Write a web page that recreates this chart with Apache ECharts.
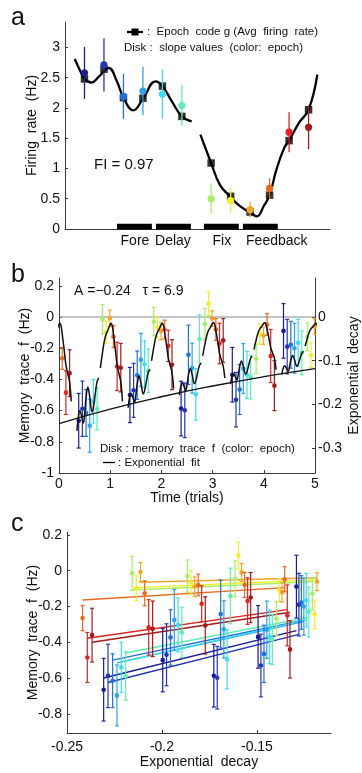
<!DOCTYPE html>
<html><head><meta charset="utf-8">
<script src="https://cdn.jsdelivr.net/npm/echarts@6/dist/echarts.min.js"></script>
<style>html,body{margin:0;padding:0;background:#fff}#chart{width:362px;height:773px}</style>
</head><body><div id="chart"></div>
<script>
const FONT = 'Liberation Sans, Arial, Helvetica, sans-serif';
const INK = '#111';
const AX = '#3a3a3a';

// jet-like epoch colours (12 epochs)
const epochColors = ['#1b1b94','#2436b4','#2170dc','#2ea3e6','#3ddcef','#5cefb0','#a6ef6a','#f2ee2a','#f3a52a','#e9691f','#e02222','#a31a1a'];

// ---------- panel a ----------
const aEpochX = [1,2,3,4,5,6,7.5,8.5,9.5,10.5,11.5,12.5];
const aEpochCode = [2.48,2.64,2.17,2.16,2.36,1.86,1.09,0.54,0.28,0.56,1.46,1.97];
const aSlope = [2.58,2.71,2.19,2.28,2.23,2.04,0.50,0.47,0.32,0.67,1.60,1.68];
const aSlopeErr = [0.43,0.44,0.37,0.40,0.41,0.34,0.25,0.21,0.13,0.17,0.33,0.36];
const aCurve1 = [[0.5,2.81],[0.8,2.6],[1.0,2.48],[1.35,2.42],[1.75,2.52],[2.25,2.66],[2.65,2.45],[3.0,2.17],[3.5,1.96],[4.0,2.15],[4.65,2.44],[5.0,2.36],[5.5,2.1],[6.0,1.86],[6.5,1.78]];
const aCurve2 = [[6.95,1.56],[7.5,1.09],[7.95,0.73],[8.5,0.53],[8.95,0.385],[9.5,0.27],[9.85,0.21],[10.2,0.38],[10.5,0.56],[10.85,0.98],[11.25,1.34],[11.5,1.46],[12.0,1.75],[12.5,1.97],[12.95,2.55]];
const aEpochBars = [[2.67,4.46],[4.67,6.46],[7.13,8.92],[9.13,10.92]];
const aEpochNames = ['Fore','Delay','Fix','Feedback'];
const aEpochNameX = [3.59,5.54,8.05,10.87];
const aTickY = [0,0.5,1,1.5,2,2.5,3];

// ---------- panels b & c ----------
const trialIds = [-1,0,1,2,3,4];
// time of each epoch inside a trial (trial k occupies k .. k+1.24)
const epochTimeInTrial = [0.385,0.457,0.528,0.600,0.671,0.743,0.850,0.921,0.993,1.064,1.135,1.207];
const memTrace = [
  [null,null,null,null,null,null,null,null,null,-0.265,-0.485,-0.36],
  [-0.665,-0.588,-0.615,-0.697,-0.54,-0.588,-0.015,-0.098,-0.008,-0.126,-0.317,-0.325],
  [-0.50,-0.47,-0.373,-0.275,-0.303,-0.345,-0.03,-0.066,-0.09,-0.08,-0.185,-0.306],
  [-0.587,-0.598,-0.242,-0.328,-0.495,-0.141,-0.045,0.085,-0.01,-0.08,-0.17,-0.15],
  [-0.37,-0.53,-0.465,-0.33,-0.37,-0.385,-0.268,-0.11,-0.12,-0.048,-0.25,-0.44],
  [-0.089,-0.19,-0.178,-0.20,-0.165,-0.23,-0.128,-0.245,-0.061,null,null,null]
];
const memErr = [
  [null,null,null,null,null,null,null,null,null,0.07,0.14,0.15],
  [0.175,0.177,0.15,0.17,0.14,0.135,0.095,0.07,0.053,0.07,0.155,0.155],
  [0.177,0.173,0.155,0.17,0.15,0.14,0.09,0.066,0.055,0.06,0.1,0.16],
  [0.175,0.175,0.19,0.16,0.165,0.155,0.1,0.075,0.05,0.07,0.13,0.14],
  [0.175,0.175,0.16,0.16,0.15,0.14,0.095,0.065,0.055,0.07,0.17,0.16],
  [0.175,0.175,0.15,0.16,0.15,0.14,0.09,0.08,0.05,null,null,null]
];
const decayX = [
  [null,null,null,null,null,null,null,null,null,-0.2418,-0.2393,-0.2368],
  [-0.2307,-0.2284,-0.2260,-0.2237,-0.2214,-0.2191,-0.2157,-0.2135,-0.2113,-0.2091,-0.2070,-0.2049],
  [-0.1996,-0.1976,-0.1955,-0.1935,-0.1915,-0.1895,-0.1866,-0.1847,-0.1828,-0.1809,-0.1791,-0.1772],
  [-0.1727,-0.1709,-0.1691,-0.1674,-0.1657,-0.1640,-0.1615,-0.1598,-0.1581,-0.1565,-0.1549,-0.1533],
  [-0.1494,-0.1479,-0.1463,-0.1448,-0.1433,-0.1419,-0.1397,-0.1382,-0.1368,-0.1354,-0.1340,-0.1326],
  [-0.1292,-0.1279,-0.1266,-0.1253,-0.1240,-0.1227,-0.1208,-0.1196,-0.1184,null,null,null]
];
// black memory-trace curve: two pieces per trial
const curveTimeA = [0.350,0.385,0.410,0.439,0.475,0.503,0.528,0.564,0.600,0.646,0.671,0.707,0.743,0.778];
const curveTimeB = [0.807,0.850,0.885,0.921,0.957,0.993,1.018,1.043,1.064,1.100,1.135,1.171,1.207,1.239];
const curveA = [
  null,
  [-0.730,-0.621,-0.601,-0.634,-0.680,-0.611,-0.519,-0.449,-0.512,-0.608,-0.581,-0.496,-0.416,-0.390],
  [-0.582,-0.503,-0.489,-0.513,-0.546,-0.496,-0.429,-0.378,-0.424,-0.493,-0.474,-0.412,-0.354,-0.335],
  [-0.501,-0.435,-0.423,-0.443,-0.471,-0.429,-0.373,-0.331,-0.369,-0.427,-0.411,-0.359,-0.311,-0.295],
  [-0.430,-0.373,-0.362,-0.380,-0.404,-0.367,-0.318,-0.282,-0.315,-0.366,-0.352,-0.306,-0.264,-0.250],
  [-0.369,-0.322,-0.313,-0.327,-0.348,-0.317,-0.277,-0.246,-0.274,-0.316,-0.304,-0.266,-0.232,-0.220]
];
const curveB = [
  [-0.328,-0.227,-0.154,-0.109,-0.083,-0.053,-0.040,-0.062,-0.113,-0.208,-0.307,-0.363,-0.416,-0.541],
  [-0.328,-0.227,-0.154,-0.109,-0.083,-0.053,-0.040,-0.062,-0.113,-0.208,-0.307,-0.363,-0.416,-0.541],
  [-0.281,-0.197,-0.135,-0.098,-0.076,-0.051,-0.040,-0.058,-0.101,-0.180,-0.263,-0.310,-0.355,-0.459],
  [-0.249,-0.174,-0.120,-0.086,-0.067,-0.045,-0.035,-0.051,-0.089,-0.160,-0.233,-0.275,-0.315,-0.390],
  [-0.209,-0.148,-0.104,-0.077,-0.061,-0.043,-0.035,-0.048,-0.079,-0.136,-0.196,-0.230,-0.263,-0.338],
  [-0.187,-0.136,-0.099,-0.076,-0.063,-0.048,-0.040,-0.052,-0.080,-0.130,-0.180,-0.210,-0.240,-0.300]
];
// exponential fit (right axis), read at integer trials
const fitT = [0,1,2,3,4,5];
const fitDecay = [-0.244,-0.2111,-0.1826,-0.1580,-0.1366,-0.1182];
const bTickLeft = [-1,-0.8,-0.6,-0.4,-0.2,0,0.2];
const bTickRight = [-0.3,-0.2,-0.1,0];
const bTickX = [0,1,2,3,4,5];
// panel c per-epoch fitted lines
const cFitX0 = [-0.2307,-0.2284,-0.2260,-0.2237,-0.2214,-0.2191,-0.2157,-0.2135,-0.2113,-0.2418,-0.2393,-0.2368];
const cFitY0 = [-0.600,-0.625,-0.500,-0.515,-0.510,-0.460,-0.108,-0.095,-0.065,-0.164,-0.378,-0.400];
const cFitX1 = [-0.1292,-0.1279,-0.1266,-0.1253,-0.1240,-0.1227,-0.1208,-0.1196,-0.1184,-0.1354,-0.1340,-0.1326];
const cFitY1 = [-0.335,-0.356,-0.280,-0.285,-0.275,-0.260,-0.062,-0.052,-0.040,-0.095,-0.218,-0.232];
const cTickX = [-0.25,-0.2,-0.15];
const cTickY = [-0.8,-0.6,-0.4,-0.2,0,0.2];

// ---------- build data ----------
const aErrData = aEpochX.map((x,i)=>[x, aSlope[i], aSlopeErr[i], i]);
const aSquares = aEpochX.map((x,i)=>[x, aEpochCode[i]]);
const bErrData = [], cErrData = [];
trialIds.forEach((k,ti)=>{
  for (let j=0;j<12;j++){
    if (memTrace[ti][j]===null) continue;
    bErrData.push([k+epochTimeInTrial[j], memTrace[ti][j], memErr[ti][j], j]);
    cErrData.push([decayX[ti][j], memTrace[ti][j], memErr[ti][j], j]);
  }
});
const cFitData = cFitX0.map((x,i)=>[x, cFitY0[i], cFitX1[i], cFitY1[i], i]);

function errorBarItem(capHalf, radius, lw){
  return function(params, api){
    const x=api.value(0), y=api.value(1), e=api.value(2), ci=api.value(3);
    const col = epochColors[ci];
    const p = api.coord([x,y]), pt = api.coord([x,y+e]), pb = api.coord([x,y-e]);
    const ch = [{type:'line', shape:{x1:p[0],y1:pt[1],x2:p[0],y2:pb[1]}, style:{stroke:col,lineWidth:lw}}];
    if (capHalf>0){
      ch.push({type:'line', shape:{x1:p[0]-capHalf,y1:pt[1],x2:p[0]+capHalf,y2:pt[1]}, style:{stroke:col,lineWidth:lw}});
      ch.push({type:'line', shape:{x1:p[0]-capHalf,y1:pb[1],x2:p[0]+capHalf,y2:pb[1]}, style:{stroke:col,lineWidth:lw}});
    }
    ch.push({type:'circle', shape:{cx:p[0],cy:p[1],r:radius}, style:{fill:col}});
    return {type:'group', children:ch};
  };
}

const txt = {fontFamily:FONT, color:INK};
function valAxis(o){
  return Object.assign({
    type:'value', splitLine:{show:false},
    axisLine:{show:true, onZero:false, lineStyle:{color:AX, width:1}},
    axisTick:{show:true, inside:true, length:3, lineStyle:{color:AX}},
    axisLabel:Object.assign({fontSize:14, margin:6}, txt),
    nameTextStyle:Object.assign({fontSize:14}, txt),
    nameLocation:'middle',
    nameMoveOverlap:false
  }, o);
}

const series = [];
// panel a
series.push({type:'custom', xAxisIndex:0, yAxisIndex:0, data:aEpochBars, encode:{x:[0,1]},
  renderItem:(params, api)=>{
    const p0 = api.coord([api.value(0),0]), p1 = api.coord([api.value(1),0]);
    return {type:'rect', shape:{x:p0[0], y:p0[1]-5.2, width:p1[0]-p0[0], height:5.6}, style:{fill:'#000'}};
  }, z:3});
[aCurve1, aCurve2].forEach(c=>series.push({type:'line', xAxisIndex:0, yAxisIndex:0, data:c, smooth:0.45, symbol:'none', lineStyle:{color:'#000', width:2.3}, z:4}));
series.push({type:'scatter', xAxisIndex:0, yAxisIndex:0, data:aSquares, symbol:'rect', symbolSize:7.5, itemStyle:{color:'#000'}, z:5});
series.push({type:'custom', xAxisIndex:0, yAxisIndex:0, data:aErrData, encode:{x:0,y:1}, renderItem:errorBarItem(0,3.6,1.3), z:6});
// panel b
series.push({type:'line', xAxisIndex:1, yAxisIndex:1, data:[[0,0],[5,0]], symbol:'none', lineStyle:{color:'#8a8a8a', width:1}, z:2});
series.push({type:'custom', xAxisIndex:1, yAxisIndex:1, data:bErrData, encode:{x:0,y:1}, renderItem:errorBarItem(2,2.3,1.2), z:3});
trialIds.forEach((k,ti)=>{
  if (curveA[ti]) series.push({type:'line', xAxisIndex:1, yAxisIndex:1, clip:true, data:curveTimeA.map((t,i)=>[k+t, curveA[ti][i]]), smooth:0.4, symbol:'none', lineStyle:{color:'#111', width:1.5}, z:5});
  series.push({type:'line', xAxisIndex:1, yAxisIndex:1, clip:true, data:curveTimeB.map((t,i)=>[k+t, curveB[ti][i]]), smooth:0.4, symbol:'none', lineStyle:{color:'#111', width:1.5}, z:5});
});
series.push({type:'line', xAxisIndex:1, yAxisIndex:2, data:fitT.map((t,i)=>[t, fitDecay[i]]), smooth:true, symbol:'none', lineStyle:{color:'#111', width:1.3}, z:5});
// panel c
series.push({type:'custom', xAxisIndex:2, yAxisIndex:3, data:cFitData, encode:{x:[0,2], y:[1,3]},
  renderItem:(params, api)=>{
    const a = api.coord([api.value(0), api.value(1)]), b = api.coord([api.value(2), api.value(3)]);
    return {type:'line', shape:{x1:a[0],y1:a[1],x2:b[0],y2:b[1]}, style:{stroke:epochColors[api.value(4)], lineWidth:1.4}};
  }, z:3});
series.push({type:'custom', xAxisIndex:2, yAxisIndex:3, data:cErrData, encode:{x:0,y:1}, renderItem:errorBarItem(2,2.3,1.2), z:4});

const option = {
  backgroundColor:'#fff',
  animation:false,
  textStyle:{fontFamily:FONT},
  grid:[
    {left:65, right:32, top:22, bottom:544, outerBoundsMode:'none'},
    {left:59, right:47, top:278, bottom:300, outerBoundsMode:'none'},
    {left:67, right:31, top:532, bottom:40, outerBoundsMode:'none'}
  ],
  xAxis:[
    valAxis({gridIndex:0, min:0, max:13.6, axisTick:{show:false},
      axisLabel:Object.assign({fontSize:14, margin:5, customValues:aEpochNameX,
        formatter:(v)=>{let b=0,d=1e9; aEpochNameX.forEach((x,i)=>{if(Math.abs(x-v)<d){d=Math.abs(x-v);b=i;}}); return aEpochNames[b];}}, txt)}),
    valAxis({gridIndex:1, min:0, max:5, name:'Time (trials)', nameGap:18,
      axisTick:{show:true, inside:true, length:3, lineStyle:{color:AX}, customValues:bTickX},
      axisLabel:Object.assign({fontSize:14, margin:4, customValues:bTickX}, txt)}),
    valAxis({gridIndex:2, min:-0.25, max:-0.111, name:'Exponential  decay', nameGap:22,
      axisTick:{show:true, inside:true, length:3, lineStyle:{color:AX}, customValues:cTickX},
      axisLabel:Object.assign({fontSize:14, margin:7, customValues:cTickX}, txt)})
  ],
  yAxis:[
    valAxis({gridIndex:0, min:0, max:3.42, name:'Firing  rate  (Hz)', nameGap:26,
      axisTick:{show:true, inside:true, length:3, lineStyle:{color:AX}, customValues:aTickY},
      axisLabel:Object.assign({fontSize:14, margin:5, customValues:aTickY}, txt)}),
    valAxis({gridIndex:1, min:-1, max:0.25, name:'Memory  trace  f  (Hz)', nameGap:27,
      axisTick:{show:true, inside:true, length:3, lineStyle:{color:AX}, customValues:bTickLeft},
      axisLabel:Object.assign({fontSize:14, margin:5, customValues:bTickLeft}, txt)}),
    valAxis({gridIndex:1, position:'right', min:-0.3572, max:0.0893, name:'Exponential  decay', nameGap:32, nameRotate:90,
      axisTick:{show:true, inside:true, length:3, lineStyle:{color:AX}, customValues:bTickRight},
      axisLabel:Object.assign({fontSize:14, margin:3, customValues:bTickRight}, txt)}),
    valAxis({gridIndex:2, min:-0.907, max:0.216, name:'Memory  trace  f  (Hz)', nameGap:27,
      axisTick:{show:true, inside:true, length:3, lineStyle:{color:AX}, customValues:cTickY},
      axisLabel:Object.assign({fontSize:14, margin:5, customValues:cTickY}, txt)})
  ],
  graphic:[
    {type:'text', x:11, y:18, style:{text:'a', fontSize:25, fontFamily:FONT, fill:INK, verticalAlign:'middle'}},
    {type:'text', x:11, y:275, style:{text:'b', fontSize:25, fontFamily:FONT, fill:INK, verticalAlign:'middle'}},
    {type:'text', x:11, y:524, style:{text:'c', fontSize:25, fontFamily:FONT, fill:INK, verticalAlign:'middle'}},
    {type:'line', shape:{x1:127, y1:32, x2:143, y2:32}, style:{stroke:'#000', lineWidth:2.3}},
    {type:'rect', shape:{x:131.5, y:28.5, width:7, height:7}, style:{fill:'#000'}},
    {type:'text', x:147, y:32, style:{text:':  Epoch  code g (Avg  firing  rate)', fontSize:11.5, fontFamily:FONT, fill:INK, verticalAlign:'middle'}},
    {type:'text', x:124, y:48, style:{text:'Disk :  slope values  (color:  epoch)', fontSize:11.5, fontFamily:FONT, fill:INK, verticalAlign:'middle'}},
    {type:'text', x:94, y:164.5, style:{text:'FI = 0.97', fontSize:15, fontFamily:FONT, fill:INK, verticalAlign:'middle'}},
    {type:'text', x:74, y:291, style:{text:'A =\u22120.24   \u03c4 = 6.9', fontSize:14, fontFamily:FONT, fill:INK, verticalAlign:'middle'}},
    {type:'text', x:100, y:448.5, style:{text:'Disk : memory  trace  f  (color:  epoch)', fontSize:11.5, fontFamily:FONT, fill:INK, verticalAlign:'middle'}},
    {type:'line', shape:{x1:103, y1:462.5, x2:115, y2:462.5}, style:{stroke:'#000', lineWidth:1.3}},
    {type:'text', x:118, y:462.5, style:{text:': Exponential  fit', fontSize:11.5, fontFamily:FONT, fill:INK, verticalAlign:'middle'}}
  ],
  series
};
const chart = echarts.init(document.getElementById('chart'));
chart.setOption(option);
</script></body></html>
